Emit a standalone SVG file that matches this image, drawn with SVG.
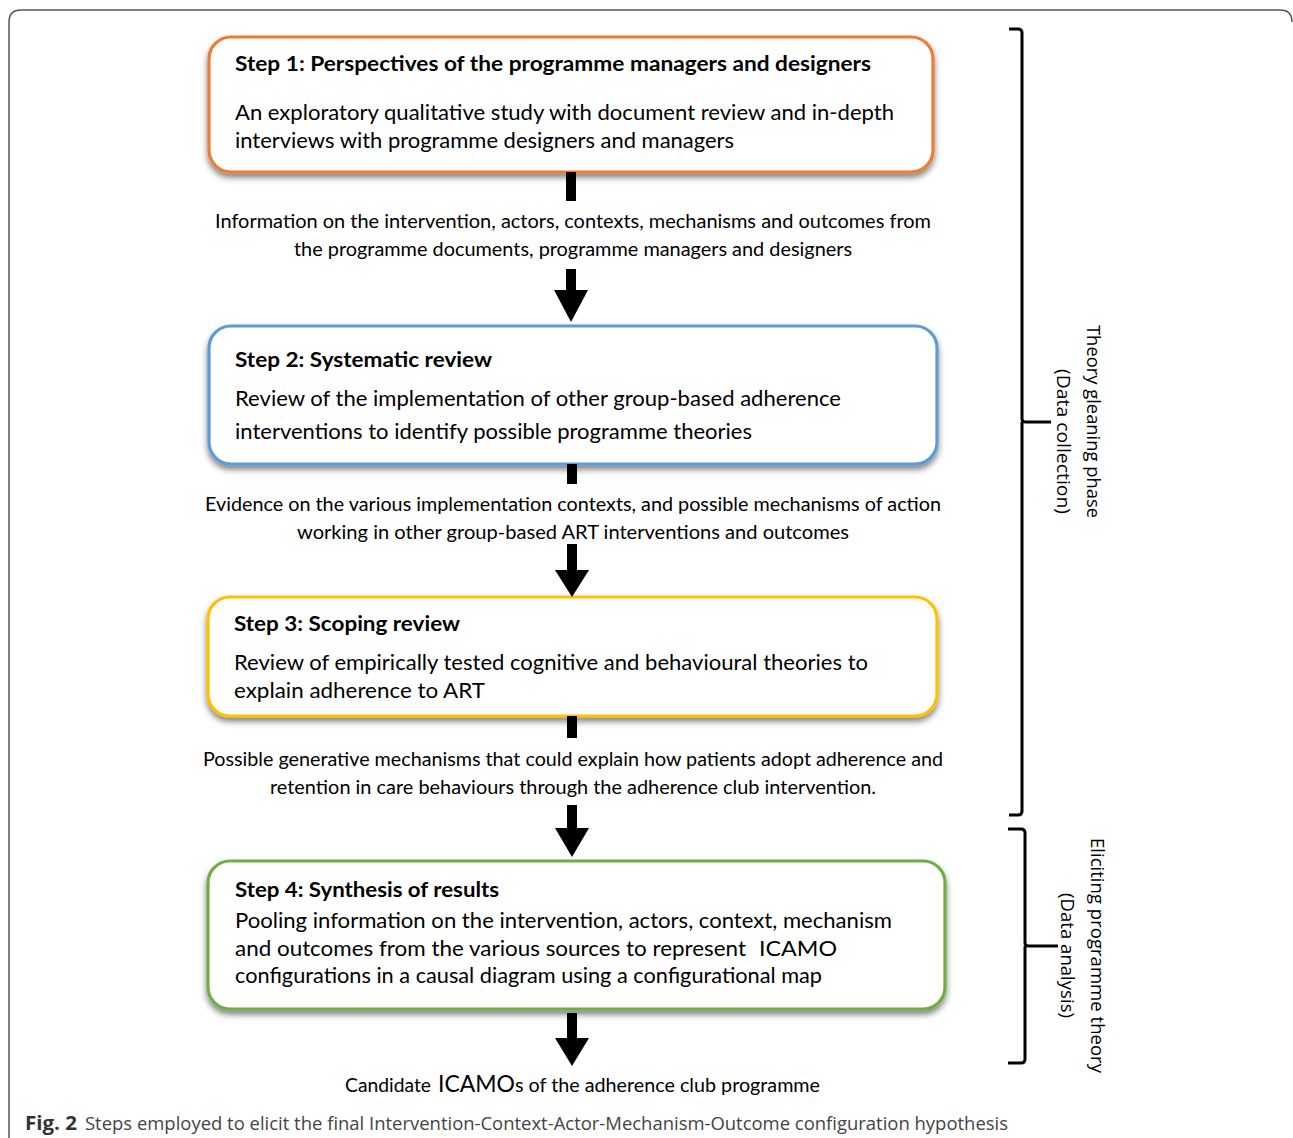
<svg xmlns="http://www.w3.org/2000/svg" width="1293" height="1138" viewBox="0 0 1293 1138">
<style>
.box{fill:#fff;stroke-width:3.2}
.t{font-family:Lato,"Open Sans",sans-serif;fill:#000}
.h{font-size:21px;font-weight:bold}
.b{font-size:22px}
.m{font-size:19.5px}
.v{font-family:"Open Sans","Noto Sans",sans-serif;font-size:19px;fill:#000}
.ar{fill:#000}
.br{fill:none;stroke:#000;stroke-width:3}
</style>
<defs>
<filter id="sh" x="-5%" y="-10%" width="110%" height="130%">
<feDropShadow dx="0" dy="4" stdDeviation="3" flood-color="#000" flood-opacity="0.5"/>
</filter>
</defs>
<rect width="1293" height="1138" fill="#fff"/>
<path d="M9,1138 V22 Q9,10 21,10 H1280 Q1292,10 1292,22" fill="none" stroke="#555" stroke-width="1.5"/>

<g id="step1">
<rect class="box" x="209" y="37" width="724" height="135" rx="22" stroke="#ED7D31" filter="url(#sh)"/>
<text class="t h" x="235" y="71" textLength="636" lengthAdjust="spacingAndGlyphs">Step 1: Perspectives of the programme managers and designers</text>
<text class="t b" x="235" y="120" textLength="659" lengthAdjust="spacingAndGlyphs">An exploratory qualitative study with document review and in-depth</text>
<text class="t b" x="235" y="148" textLength="499" lengthAdjust="spacingAndGlyphs">interviews with programme designers and managers</text>
</g>

<g id="step2">
<rect class="box" x="209" y="326" width="728" height="138" rx="22" stroke="#5B9BD5" filter="url(#sh)"/>
<text class="t h" x="235" y="367" textLength="257" lengthAdjust="spacingAndGlyphs">Step 2: Systematic review</text>
<text class="t b" x="235" y="406" textLength="606" lengthAdjust="spacingAndGlyphs">Review of the implementation of other group-based adherence</text>
<text class="t b" x="235" y="439" textLength="517" lengthAdjust="spacingAndGlyphs">interventions to identify possible programme theories</text>
</g>

<g id="step3">
<rect class="box" x="208" y="597" width="729" height="119" rx="22" stroke="#FFC000" filter="url(#sh)"/>
<text class="t h" x="234" y="631" textLength="226" lengthAdjust="spacingAndGlyphs">Step 3: Scoping review</text>
<text class="t b" x="234" y="670" textLength="634" lengthAdjust="spacingAndGlyphs">Review of empirically tested cognitive and behavioural theories to</text>
<text class="t b" x="234" y="698" textLength="251" lengthAdjust="spacingAndGlyphs">explain adherence to ART</text>
</g>

<g id="step4">
<rect class="box" x="208" y="861" width="737" height="148" rx="22" stroke="#70AD47" filter="url(#sh)"/>
<text class="t h" x="235" y="897" textLength="264" lengthAdjust="spacingAndGlyphs">Step 4: Synthesis of results</text>
<text class="t b" x="235" y="928" textLength="657" lengthAdjust="spacingAndGlyphs">Pooling information on the intervention, actors, context, mechanism</text>
<text class="t b" x="235" y="956" textLength="511" lengthAdjust="spacingAndGlyphs">and outcomes from the various sources to represent</text>
<text class="t b" x="759" y="956" font-size="23" textLength="78" lengthAdjust="spacingAndGlyphs">ICAMO</text>
<text class="t b" x="235" y="983" textLength="587" lengthAdjust="spacingAndGlyphs">configurations in a causal diagram using a configurational map</text>
</g>

<g id="labels">
<text class="t m" x="215" y="228" textLength="716" lengthAdjust="spacingAndGlyphs">Information on the intervention, actors, contexts, mechanisms and outcomes from</text>
<text class="t m" x="294" y="256" textLength="558" lengthAdjust="spacingAndGlyphs">the programme documents, programme managers and designers</text>
<text class="t m" x="205" y="511" textLength="736" lengthAdjust="spacingAndGlyphs">Evidence on the various implementation contexts, and possible mechanisms of action</text>
<text class="t m" x="297" y="539" textLength="552" lengthAdjust="spacingAndGlyphs">working in other group-based ART interventions and outcomes</text>
<text class="t m" x="203" y="766" textLength="740" lengthAdjust="spacingAndGlyphs">Possible generative mechanisms that could explain how patients adopt adherence and</text>
<text class="t m" x="270" y="794" textLength="606" lengthAdjust="spacingAndGlyphs">retention in care behaviours through the adherence club intervention.</text>
<text class="t m" x="345" y="1092" textLength="86" lengthAdjust="spacingAndGlyphs">Candidate</text>
<text class="t" x="438" y="1092" font-size="24" textLength="77" lengthAdjust="spacingAndGlyphs">ICAMO</text>
<text class="t m" x="515" y="1092" textLength="305" lengthAdjust="spacingAndGlyphs">s of the adherence club programme</text>
</g>

<g id="connectors">
<rect class="ar" x="566" y="172" width="10" height="29"/>
<rect class="ar" x="566" y="269" width="10" height="23"/>
<polygon class="ar" points="554,290 588,290 571,322"/>
<rect class="ar" x="567" y="464" width="10" height="20"/>
<rect class="ar" x="567" y="544" width="10" height="28"/>
<polygon class="ar" points="555,570 589,570 572,597"/>
<rect class="ar" x="567" y="716" width="10" height="22"/>
<rect class="ar" x="567" y="805" width="10" height="25"/>
<polygon class="ar" points="555,828 589,828 572,857"/>
<rect class="ar" x="567" y="1013" width="10" height="27"/>
<polygon class="ar" points="555,1038 589,1038 572,1066"/>
</g>

<g id="phase1">
<path class="br" d="M1009,29 H1018 Q1022,29 1022,33 V419 Q1022,422 1026,422 H1051 M1022,422 V811 Q1022,815 1018,815 H1009"/>
<text class="v" transform="translate(1087,325) rotate(90)" textLength="193" lengthAdjust="spacingAndGlyphs">Theory gleaning phase</text>
<text class="v" transform="translate(1057,369) rotate(90)" textLength="145" lengthAdjust="spacingAndGlyphs">(Data collection)</text>
</g>

<g id="phase2">
<path class="br" d="M1008,829 H1021 Q1025,829 1025,833 V943 Q1025,946 1029,946 H1058 M1025,946 V1059 Q1025,1063 1021,1063 H1008"/>
<text class="v" transform="translate(1091,838) rotate(90)" textLength="235" lengthAdjust="spacingAndGlyphs">Eliciting programme theory</text>
<text class="v" transform="translate(1061,893) rotate(90)" textLength="125" lengthAdjust="spacingAndGlyphs">(Data analysis)</text>
</g>

<g id="caption">
<text x="25" y="1130" font-family="'Open Sans','Noto Sans',sans-serif" font-size="19" font-weight="bold" fill="#333" textLength="52" lengthAdjust="spacingAndGlyphs">Fig. 2</text>
<text x="85" y="1130" font-family="'Open Sans','Noto Sans',sans-serif" font-size="19" fill="#444" textLength="923" lengthAdjust="spacingAndGlyphs">Steps employed to elicit the final Intervention-Context-Actor-Mechanism-Outcome configuration hypothesis</text>
</g>
</svg>
